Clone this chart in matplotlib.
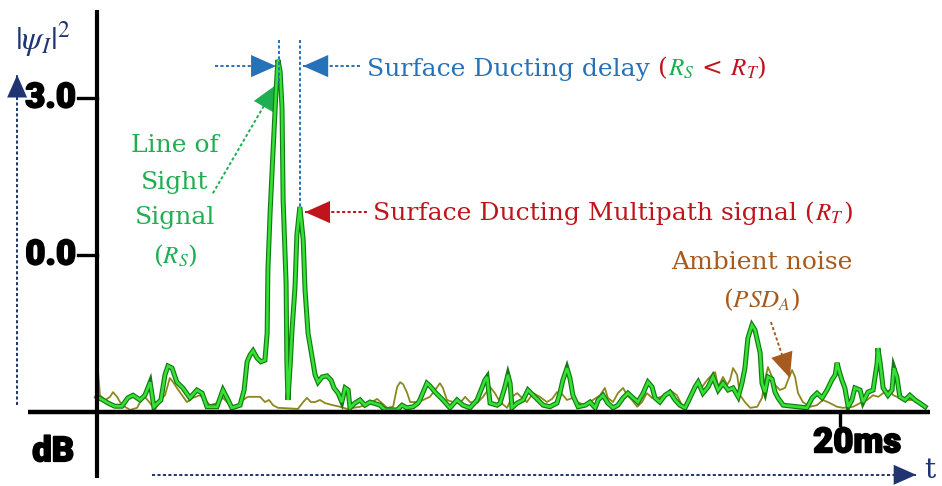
import matplotlib
matplotlib.use('Agg')

import matplotlib.pyplot as plt
import matplotlib.patheffects as pe

plt.rcParams['mathtext.fontset'] = 'stix'

# received intensity |psi_I|^2 in dB vs time in ms
sig_t = [0.00, 0.16, 0.30, 0.48, 0.67, 0.83, 0.97, 1.16, 1.29, 1.43,
         1.53, 1.72, 1.83, 1.91, 2.02, 2.15, 2.31, 2.50, 2.69, 2.83,
         2.96, 3.23, 3.39, 3.50, 3.63, 3.85, 3.96, 4.04, 4.12, 4.20,
         4.31, 4.41, 4.52, 4.58, 4.60, 4.66, 4.74, 4.82, 4.87, 4.93,
         4.98, 5.01, 5.09, 5.11, 5.14, 5.20, 5.25, 5.33, 5.38, 5.46,
         5.55, 5.60, 5.68, 5.79, 5.87, 5.95, 6.06, 6.19, 6.30, 6.38,
         6.49, 6.59, 6.68, 6.76, 6.81, 6.94, 7.08, 7.21, 7.35, 7.62,
         7.75, 8.08, 8.21, 8.34, 8.51, 8.64, 8.69, 8.88, 8.96, 9.10,
         9.31, 9.50, 9.69, 9.85, 10.04, 10.23, 10.36, 10.44, 10.50, 10.58,
         10.77, 10.85, 10.98, 11.06, 11.12, 11.17, 11.31, 11.47, 11.60, 11.74,
         11.87, 12.01, 12.19, 12.38, 12.46, 12.54, 12.65, 12.73, 12.81, 12.95,
         13.14, 13.27, 13.41, 13.49, 13.62, 13.75, 13.89, 14.02, 14.16, 14.29,
         14.43, 14.56, 14.70, 14.83, 14.94, 15.02, 15.15, 15.29, 15.42, 15.56,
         15.69, 15.83, 15.96, 16.10, 16.18, 16.31, 16.45, 16.58, 16.72, 16.85,
         16.99, 17.12, 17.26, 17.36, 17.44, 17.52, 17.63, 17.71, 17.77, 17.85,
         17.90, 17.98, 18.06, 18.17, 18.25, 18.33, 18.47, 18.84, 19.11, 19.25,
         19.38, 19.52, 19.65, 19.78, 19.87, 19.92, 19.97, 20.05, 20.13, 20.22,
         20.32, 20.40, 20.54, 20.62, 20.75, 20.89, 21.00, 21.02, 21.08, 21.16,
         21.29, 21.40, 21.45, 21.53, 21.61, 21.75, 21.88, 22.02, 22.15, 22.29]
sig_db = [-2.71, -2.77, -2.83, -2.89, -2.89, -2.73, -2.68, -2.77, -2.68, -2.43,
          -2.90, -2.77, -2.29, -2.12, -2.16, -2.43, -2.54, -2.73, -2.58, -2.64,
          -2.90, -2.90, -2.58, -2.73, -2.92, -2.87, -2.58, -2.04, -1.91, -1.83,
          -1.97, -2.04, -2.01, -1.49, -0.29, 0.82, 2.01, 3.15, 3.73, 3.50,
          2.81, 1.05, -0.54, -2.04, -2.77, -2.10, -1.43, -0.61, 0.38, 0.92,
          0.29, -0.67, -1.49, -1.95, -2.29, -2.43, -2.33, -2.31, -2.39, -2.54,
          -2.64, -2.81, -2.54, -2.58, -2.92, -2.83, -2.77, -2.87, -2.81, -2.87,
          -2.96, -2.96, -2.87, -2.92, -2.90, -2.83, -2.77, -2.45, -2.50, -2.62,
          -2.77, -2.92, -2.77, -2.87, -2.92, -2.77, -2.54, -2.39, -2.33, -2.83,
          -2.87, -2.83, -2.52, -2.29, -2.45, -2.92, -2.83, -2.77, -2.58, -2.68,
          -2.77, -2.87, -2.90, -2.83, -2.64, -2.39, -2.16, -2.35, -2.68, -2.90,
          -2.87, -2.81, -2.92, -2.77, -2.68, -2.83, -2.92, -2.87, -2.73, -2.64,
          -2.73, -2.81, -2.64, -2.43, -2.52, -2.73, -2.81, -2.68, -2.62, -2.77,
          -2.87, -2.92, -2.73, -2.52, -2.43, -2.64, -2.52, -2.33, -2.58, -2.45,
          -2.58, -2.54, -2.71, -2.45, -2.16, -1.59, -1.34, -1.43, -1.62, -1.87,
          -2.45, -2.62, -2.33, -2.37, -2.62, -2.73, -2.87, -2.90, -2.92, -2.73,
          -2.64, -2.73, -2.58, -2.39, -2.29, -2.06, -2.20, -2.39, -2.54, -2.90,
          -2.77, -2.54, -2.58, -2.81, -2.62, -2.58, -2.06, -1.78, -2.06, -2.54,
          -2.68, -2.58, -2.16, -2.33, -2.71, -2.77, -2.68, -2.77, -2.83, -2.90]

# ambient noise trace
noise_t = [0.03, 0.08, 0.22, 0.35, 0.43, 0.54, 0.62, 0.75, 0.89, 1.08,
           1.16, 1.29, 1.43, 1.56, 1.70, 1.83, 1.96, 2.05, 2.15, 2.29,
           2.42, 2.58, 2.77, 2.91, 3.04, 3.23, 3.39, 3.58, 3.77, 3.93,
           4.06, 4.39, 4.52, 4.63, 4.74, 4.87, 5.41, 5.55, 5.65, 5.76,
           5.87, 6.00, 6.14, 6.35, 6.54, 6.73, 7.08, 7.35, 7.54, 7.67,
           7.81, 7.97, 8.08, 8.16, 8.24, 8.34, 8.43, 8.61, 8.78, 8.96,
           9.10, 9.23, 9.31, 9.42, 9.58, 9.77, 9.91, 10.04, 10.23, 10.39,
           10.58, 10.71, 10.85, 11.04, 11.17, 11.31, 11.44, 11.57, 11.74, 11.92,
           12.11, 12.25, 12.38, 12.52, 12.65, 12.81, 12.92, 13.14, 13.35, 13.54,
           13.67, 13.75, 13.89, 14.02, 14.16, 14.27, 14.40, 14.54, 14.67, 14.80,
           14.94, 15.10, 15.29, 15.42, 15.61, 15.77, 15.91, 16.04, 16.18, 16.29,
           16.42, 16.55, 16.64, 16.72, 16.85, 16.96, 17.04, 17.12, 17.23, 17.31,
           17.44, 17.58, 17.77, 17.90, 17.98, 18.06, 18.17, 18.25, 18.38, 18.52,
           18.60, 18.71, 18.79, 18.87, 19.00, 19.19, 19.38, 19.54, 19.73, 19.92,
           20.08, 20.35, 20.54, 20.73, 20.89, 21.03, 21.16, 21.35, 21.43, 21.61,
           21.80, 21.97, 22.15, 22.29]
noise_db = [-2.25, -2.68, -2.77, -2.71, -2.62, -2.71, -2.81, -2.90, -2.96, -2.92,
            -2.81, -2.71, -2.83, -2.96, -2.77, -2.68, -2.35, -2.43, -2.54, -2.68,
            -2.81, -2.73, -2.68, -2.77, -2.87, -2.83, -2.73, -2.87, -2.92, -2.77,
            -2.71, -2.71, -2.81, -2.77, -2.87, -2.92, -2.94, -2.81, -2.73, -2.81,
            -2.81, -2.77, -2.83, -2.87, -2.90, -2.94, -2.90, -2.83, -2.75, -2.83,
            -2.92, -2.90, -2.52, -2.43, -2.47, -2.62, -2.81, -2.81, -2.77, -2.71,
            -2.58, -2.45, -2.54, -2.77, -2.81, -2.83, -2.71, -2.81, -2.83, -2.71,
            -2.52, -2.64, -2.81, -2.92, -2.71, -2.64, -2.73, -2.81, -2.64, -2.71,
            -2.81, -2.75, -2.62, -2.66, -2.77, -2.73, -2.81, -2.87, -2.77, -2.68,
            -2.54, -2.73, -2.81, -2.64, -2.54, -2.68, -2.77, -2.90, -2.81, -2.64,
            -2.73, -2.73, -2.68, -2.58, -2.68, -2.90, -2.81, -2.58, -2.43, -2.52,
            -2.39, -2.29, -2.24, -2.52, -2.33, -2.48, -2.39, -2.16, -2.29, -2.68,
            -2.81, -2.92, -2.90, -2.73, -2.39, -2.14, -2.33, -2.48, -2.58, -2.54,
            -2.39, -2.20, -2.33, -2.64, -2.81, -2.90, -2.87, -2.77, -2.83, -2.90,
            -2.92, -2.90, -2.83, -2.77, -2.68, -2.71, -2.64, -2.58, -2.68, -2.73,
            -2.77, -2.77, -2.83, -2.90]

ytick_vals = [3.0, 0.0]
ytick_labels = ['3.0', '0.0']
xtick_val = 20
xtick_label = '20ms'
floor_db = -3.0

NAVY = '#1f3470'
BLUE = '#2672b8'
RED = '#c0141c'
GREEN_TXT = '#1fae52'
BROWN = '#a65a1e'
OLIVE = '#8c881e'

fig = plt.figure(figsize=(9.42, 4.86), dpi=100)
ax = fig.add_axes([0, 0, 1, 1])
ax.set_xlim(-2.611, 22.745)
ax.set_ylim(-4.414, 4.873)
ax.axis('off')

DOT = (0, (1.6, 1.2))


def dotted_arrow(start, tip, color, scale=20):
    ax.plot([start[0], tip[0]], [start[1], tip[1]], color=color, lw=1.4, ls=DOT)
    ax.annotate('', xy=tip, xytext=start,
                arrowprops=dict(arrowstyle='-|>,head_length=0.9,head_width=0.4',
                                color=color, lw=0, shrinkA=0, shrinkB=0,
                                mutation_scale=scale))


# traces
ax.plot(noise_t, noise_db, color=OLIVE, lw=1.3, zorder=3)
ax.plot(sig_t, sig_db, color='#157a15', lw=3.6, solid_joinstyle='miter', zorder=4)
ax.plot(sig_t, sig_db, color='#33e233', lw=1.9, solid_joinstyle='miter', zorder=5)

# axes drawn by hand
ax.plot([0, 0], [-4.26, 4.68], color='black', lw=3.0, solid_capstyle='butt', zorder=6)
ax.plot([-1.86, 22.42], [floor_db, floor_db], color='black', lw=3.2,
        solid_capstyle='butt', zorder=6)
label_font = dict(family=['Roboto', 'DejaVu Sans'], fontweight='black',
                  fontsize=25, color='black',
                  path_effects=[pe.withStroke(linewidth=1.2, foreground='black')])
for v, lab in zip(ytick_vals, ytick_labels):
    ax.plot([-0.51, 0], [v, v], color='black', lw=2.4, zorder=6)
    ax.text(-0.56, v, lab, ha='right', va='center', **label_font)
ax.plot([xtick_val, xtick_val], [floor_db, -3.25], color='black', lw=2.4, zorder=6)
ax.text(xtick_val + 0.46, -3.59, xtick_label, ha='center', va='center', **label_font)
ax.text(-1.18, -3.76, 'dB', ha='center', va='center', **label_font)

ax.text(-1.45, 4.12, r'$|\psi_I|^2$', color=NAVY, fontsize=24, ha='center', va='center')
ax.text(22.27, -4.12, 't', color=NAVY, fontsize=20, ha='left', va='center',
        family='DejaVu Serif')
dotted_arrow((-2.15, -2.87), (-2.15, 3.44), NAVY, scale=18)
dotted_arrow((1.48, -4.20), (22.05, -4.20), NAVY, scale=18)

# delay markers
ax.plot([4.90, 4.90], [4.11, 3.25], color=BLUE, lw=1.4, ls=DOT, zorder=7)
ax.plot([5.46, 5.46], [4.11, 0.92], color=BLUE, lw=1.4, ls=DOT, zorder=7)
dotted_arrow((3.18, 3.61), (4.82, 3.61), BLUE)
dotted_arrow((7.08, 3.61), (5.55, 3.61), BLUE)
dotted_arrow((7.27, 0.82), (5.60, 0.82), RED)
dotted_arrow((3.12, 1.18), (4.82, 3.25), GREEN_TXT)
dotted_arrow((18.14, -1.28), (18.65, -2.35), BROWN)

serif = dict(family='DejaVu Serif', fontsize=18)
renderer = fig.canvas.get_renderer()


def chain(x, y, parts):
    for s, c in parts:
        t = ax.text(x, y, s, color=c, va='baseline', ha='left', **serif)
        bb = t.get_window_extent(renderer)
        x = ax.transData.inverted().transform((bb.x1, bb.y0))[0]


chain(7.27, 3.43, [('Surface Ducting delay', BLUE), (' (', RED), (r'$R_S$', GREEN_TXT),
                   (r' < $R_T$)', RED)])
chain(7.43, 0.66, [('Surface Ducting Multipath signal (', RED), (r'$R_T$', RED), (')', RED)])

for txt, v in zip(['Line of', 'Sight', 'Signal', r'($R_S$)'], [2.10, 1.38, 0.71, -0.02]):
    ax.text(2.10, v, txt, color=GREEN_TXT, ha='center', va='center', **serif)

ax.text(17.90, -0.15, 'Ambient noise', color=BROWN, ha='center', va='center', **serif)
ax.text(17.90, -0.86, r'($PSD_A$)', color=BROWN, ha='center', va='center', **serif)

fig.savefig('out.png', dpi=100)
